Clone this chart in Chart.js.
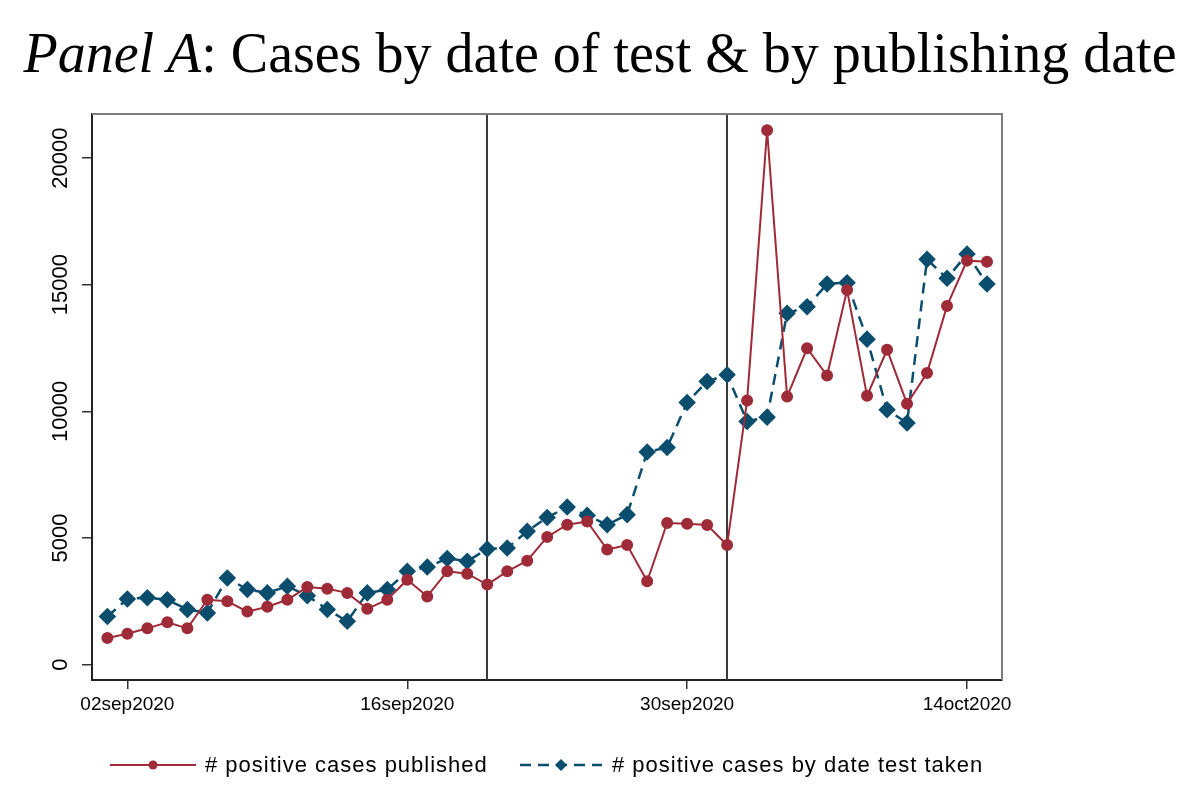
<!DOCTYPE html>
<html>
<head>
<meta charset="utf-8">
<script src="https://cdn.jsdelivr.net/npm/chart.js@4.4.0/dist/chart.umd.min.js"></script>
<style>
  html, body { margin: 0; padding: 0; background: #fff; }
  #wrap { position: relative; width: 1200px; height: 803px; }
  #title {
    position: absolute; left: 0; top: 25px; width: 1200px; text-align: center;
    font-family: "Liberation Serif", "DejaVu Serif", serif; font-size: 56px; line-height: 1; color: #000;
    white-space: nowrap;
  }
  canvas { position: absolute; left: 0; top: 0; }
</style>
</head>
<body>
<div id="wrap">
  <canvas id="chart" width="1200" height="803"></canvas>
  <div id="title"><i>Panel A</i>: Cases by date of test &amp; by publishing date</div>
</div>
<script>
// daily dates, 01sep2020 .. 15oct2020
const dates = [
  '01sep2020','02sep2020','03sep2020','04sep2020','05sep2020','06sep2020','07sep2020','08sep2020',
  '09sep2020','10sep2020','11sep2020','12sep2020','13sep2020','14sep2020','15sep2020','16sep2020',
  '17sep2020','18sep2020','19sep2020','20sep2020','21sep2020','22sep2020','23sep2020','24sep2020',
  '25sep2020','26sep2020','27sep2020','28sep2020','29sep2020','30sep2020','01oct2020','02oct2020',
  '03oct2020','04oct2020','05oct2020','06oct2020','07oct2020','08oct2020','09oct2020','10oct2020',
  '11oct2020','12oct2020','13oct2020','14oct2020','15oct2020'
];

// # positive cases published
const published = [
  1050, 1220, 1430, 1670, 1430, 2560, 2500, 2090, 2280, 2560, 3060, 2990, 2830, 2200, 2560, 3350,
  2690, 3680, 3590, 3160, 3680, 4100, 5040, 5520, 5650, 4540, 4720, 3290, 5590, 5560, 5510, 4720,
  10430, 21100, 10580, 12490, 11410, 14790, 10610, 12430, 10300, 11510, 14160, 15950, 15910
];

// # positive cases by date test taken
const byTestDate = [
  1900, 2590, 2640, 2560, 2170, 2040, 3420, 2960, 2830, 3090, 2720, 2170, 1710, 2830, 2960, 3680,
  3850, 4190, 4080, 4560, 4600, 5260, 5810, 6220, 5890, 5520, 5920, 8390, 8570, 10350, 11180, 11440,
  9600, 9770, 13870, 14130, 15030, 15080, 12850, 10060, 9540, 16000, 15250, 16210, 15030
];

const xTickLabels = ['02sep2020', '16sep2020', '30sep2020', '14oct2020'];
const yTickValues = [0, 5000, 10000, 15000, 20000];
const eventDates = ['20sep2020', '02oct2020'];
const seriesNames = ['# positive cases published', '# positive cases by date test taken'];

const RED = '#9e2b37';
const BLUE = '#0b4d6d';
const SANS = '"Liberation Sans", Arial, sans-serif';

const toPoints = arr => arr.map((v, i) => ({ x: i, y: v }));

// frame, event lines, rotated y labels, legend
const decorations = {
  id: 'decorations',
  beforeDatasetsDraw(chart) {
    const { ctx, chartArea: a, scales } = chart;
    ctx.save();
    ctx.strokeStyle = '#3a3a3a';
    ctx.lineWidth = 2;
    eventDates.forEach(d => {
      const x = Math.round(scales.x.getPixelForValue(dates.indexOf(d)));
      ctx.beginPath();
      ctx.moveTo(x, a.top);
      ctx.lineTo(x, a.bottom);
      ctx.stroke();
    });
    ctx.restore();
  },
  afterDraw(chart) {
    const { ctx, chartArea: a, scales } = chart;
    ctx.save();
    // top and right frame
    ctx.strokeStyle = '#7d7d7d';
    ctx.lineWidth = 2;
    ctx.beginPath();
    ctx.moveTo(a.left, a.top);
    ctx.lineTo(a.right, a.top);
    ctx.lineTo(a.right, a.bottom);
    ctx.stroke();

    // y tick labels, vertical
    ctx.fillStyle = '#000';
    ctx.font = '22px ' + SANS;
    ctx.textAlign = 'center';
    ctx.textBaseline = 'middle';
    yTickValues.forEach(v => {
      ctx.save();
      ctx.translate(61, scales.y.getPixelForValue(v));
      ctx.rotate(-Math.PI / 2);
      ctx.fillText(String(v), 0, 0);
      ctx.restore();
    });

    // legend
    const ly = 765;
    const items = [
      { x0: 110, x1: 196, tx: 205, ds: chart.data.datasets[0] },
      { x0: 520, x1: 602, tx: 612, ds: chart.data.datasets[1] }
    ];
    ctx.textAlign = 'left';
    ctx.font = '22px ' + SANS;
    items.forEach(it => {
      ctx.strokeStyle = it.ds.borderColor;
      ctx.lineWidth = it.ds.borderWidth;
      ctx.setLineDash(it.ds.borderDash || []);
      ctx.beginPath();
      ctx.moveTo(it.x0, ly);
      ctx.lineTo(it.x1, ly);
      ctx.stroke();
      ctx.setLineDash([]);
      const mx = (it.x0 + it.x1) / 2;
      ctx.fillStyle = it.ds.pointBackgroundColor;
      ctx.beginPath();
      if (it.ds.pointStyle === 'rectRot') {
        ctx.moveTo(mx, ly - 6); ctx.lineTo(mx + 6, ly); ctx.lineTo(mx, ly + 6); ctx.lineTo(mx - 6, ly);
        ctx.closePath();
      } else {
        ctx.arc(mx, ly, 4.5, 0, Math.PI * 2);
      }
      ctx.fill();
      ctx.fillStyle = '#000';
      ctx.letterSpacing = '1px';
      ctx.fillText(it.ds.label, it.tx, ly + 1);
      ctx.letterSpacing = '0px';
    });
    ctx.restore();
  }
};

new Chart(document.getElementById('chart'), {
  type: 'line',
  data: {
    datasets: [
      {
        label: seriesNames[0],
        data: toPoints(published),
        borderColor: RED,
        backgroundColor: RED,
        pointBackgroundColor: RED,
        pointBorderColor: RED,
        pointStyle: 'circle',
        pointRadius: 5,
        borderWidth: 2,
        tension: 0
      },
      {
        label: seriesNames[1],
        data: toPoints(byTestDate),
        borderColor: BLUE,
        backgroundColor: BLUE,
        pointBackgroundColor: BLUE,
        pointBorderColor: BLUE,
        pointStyle: 'rectRot',
        pointRadius: 7,
        borderWidth: 2.5,
        borderDash: [11, 7],
        tension: 0
      }
    ]
  },
  options: {
    responsive: false,
    animation: false,
    layout: { padding: { top: 114, left: 0, right: 198, bottom: 0 } },
    plugins: {
      legend: { display: false },
      title: { display: false },
      tooltip: { enabled: false }
    },
    scales: {
      x: {
        type: 'linear',
        min: -0.77,
        max: 44.75,
        afterFit(s) { s.height = 123; },
        afterBuildTicks(s) {
          s.ticks = xTickLabels.map(l => ({ value: dates.indexOf(l) }));
        },
        grid: { drawOnChartArea: false, drawTicks: true, tickLength: 9, color: '#333', lineWidth: 1.5 },
        border: { display: true, color: '#222', width: 2 },
        ticks: {
          color: '#000',
          font: { family: SANS, size: 19 },
          padding: 4,
          maxRotation: 0,
          minRotation: 0,
          callback: v => dates[v]
        }
      },
      y: {
        min: -610,
        max: 21740,
        afterFit(s) { s.width = 92; },
        afterBuildTicks(s) {
          s.ticks = yTickValues.map(v => ({ value: v }));
        },
        grid: { drawOnChartArea: false, drawTicks: true, tickLength: 10, color: '#333', lineWidth: 1.5 },
        border: { display: true, color: '#222', width: 2 },
        ticks: { display: false }
      }
    }
  },
  plugins: [decorations]
});
</script>
</body>
</html>
